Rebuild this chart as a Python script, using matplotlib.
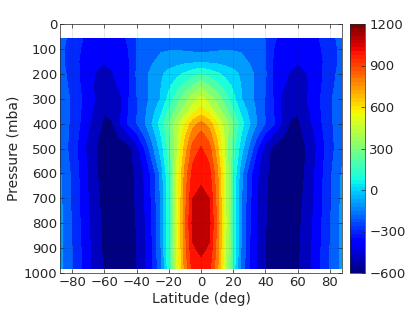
import numpy as np
import matplotlib
matplotlib.use("Agg")
import matplotlib.pyplot as plt

# latitude (deg) and pressure (mba) of the grid
lats = [-87.5, -80, -70, -65, -60, -55, -50, -45, -40, -35, -30, -25, -20, -15, -10, -5,
        0, 5, 10, 15, 20, 25, 30, 35, 40, 45, 50, 55, 60, 65, 70, 80, 87.5]
pressures = [60, 100, 150, 200, 250, 300, 350, 400, 450, 500, 600, 700, 800, 900, 980]

# field values, one row per pressure level (south to north)
row_60 = [-160, -240, -330, -345, -350, -340, -320, -290, -200, -170, -150, -145, -140, -140, -145, -150,
          -150, -150, -145, -140, -140, -145, -150, -170, -200, -290, -320, -340, -350, -345, -330, -240, -160]
row_100 = [-170, -250, -345, -365, -375, -365, -340, -300, -200, -160, -130, -115, -110, -110, -115, -125,
           -130, -125, -115, -110, -110, -115, -130, -160, -200, -300, -340, -365, -375, -365, -345, -250, -170]
row_150 = [-170, -260, -355, -385, -395, -385, -350, -310, -200, -160, -110, -70, -50, -40, -30, -25,
           -20, -25, -30, -40, -50, -70, -110, -160, -200, -310, -350, -385, -395, -385, -355, -260, -170]
row_200 = [-160, -240, -370, -405, -420, -405, -370, -310, -190, -130, -65, -15, 30, 70, 115, 160,
           200, 160, 115, 70, 30, -15, -65, -130, -190, -310, -370, -405, -420, -405, -370, -240, -160]
row_250 = [-150, -230, -370, -420, -445, -430, -385, -320, -200, -130, -65, -5, 80, 160, 235, 310,
           380, 310, 235, 160, 80, -5, -65, -130, -200, -320, -385, -430, -445, -420, -370, -230, -150]
row_300 = [-140, -215, -360, -410, -475, -465, -420, -305, -205, -135, -65, 5, 130, 250, 355, 450,
           530, 450, 355, 250, 130, 5, -65, -135, -205, -305, -420, -465, -475, -410, -360, -215, -140]
row_350 = [-140, -215, -370, -430, -495, -480, -410, -300, -205, -120, -30, 70, 210, 340, 450, 560,
           640, 560, 450, 340, 210, 70, -30, -120, -205, -300, -410, -480, -495, -430, -370, -215, -140]
row_400 = [-140, -220, -385, -450, -520, -505, -400, -285, -205, -110, 10, 140, 300, 455, 600, 760,
           830, 760, 600, 455, 300, 140, 10, -110, -205, -285, -400, -505, -520, -450, -385, -220, -140]
row_450 = [-135, -230, -410, -480, -545, -545, -490, -420, -330, -200, -60, 90, 270, 470, 680, 860,
           940, 860, 680, 470, 270, 90, -60, -200, -330, -420, -490, -545, -545, -480, -410, -230, -135]
row_500 = [-130, -240, -430, -500, -560, -575, -565, -530, -450, -300, -120, 40, 240, 480, 740, 940,
           1010, 940, 740, 480, 240, 40, -120, -300, -450, -530, -565, -575, -560, -500, -430, -240, -130]
row_600 = [-90, -220, -410, -490, -555, -585, -580, -545, -480, -390, -260, -70, 190, 520, 830, 1040,
           1070, 1040, 830, 520, 190, -70, -260, -390, -480, -545, -580, -585, -555, -490, -410, -220, -90]
row_700 = [-80, -215, -400, -475, -540, -580, -580, -550, -485, -400, -275, -90, 180, 530, 860, 1100,
           1130, 1100, 860, 530, 180, -90, -275, -400, -485, -550, -580, -580, -540, -475, -400, -215, -80]
row_800 = [-70, -210, -390, -460, -530, -570, -575, -550, -495, -410, -285, -100, 170, 540, 880, 1130,
           1160, 1130, 880, 540, 170, -100, -285, -410, -495, -550, -575, -570, -530, -460, -390, -210, -70]
row_900 = [-70, -200, -380, -455, -520, -560, -565, -545, -502, -420, -295, -110, 170, 530, 860, 1090,
           1120, 1090, 860, 530, 170, -110, -295, -420, -502, -545, -565, -560, -520, -455, -380, -200, -70]
row_980 = [-70, -200, -375, -450, -515, -550, -555, -540, -505, -420, -302, -120, 160, 510, 830, 1040,
           1070, 1040, 830, 510, 160, -120, -302, -420, -505, -540, -555, -550, -515, -450, -375, -200, -70]

field = np.array([row_60, row_100, row_150, row_200, row_250, row_300, row_350, row_400,
                  row_450, row_500, row_600, row_700, row_800, row_900, row_980])

levels = np.arange(-600, 1201, 100)
vmin, vmax = -600, 1200
cbar_ticks = [-600, -300, 0, 300, 600, 900, 1200]
x_ticks = [-80, -60, -40, -20, 0, 20, 40, 60, 80]
y_ticks = [0, 100, 200, 300, 400, 500, 600, 700, 800, 900, 1000]

txt = "#262626"
plt.rcParams["font.family"] = "DejaVu Sans"

fig = plt.figure(figsize=(4.15, 3.12), dpi=100)
ax = fig.add_axes([60 / 415, 39 / 312, 282 / 415, 249 / 312])
cax = fig.add_axes([350 / 415, 39 / 312, 15 / 415, 249 / 312])

# matlab style: each band takes the colour of its lower level
jet = plt.get_cmap("jet")
band_colors = [jet((lv - vmin) / (vmax - vmin)) for lv in levels[:-1]]
ax.contourf(lats, pressures, field, levels=levels, colors=band_colors)

ax.set_xlim(-87.5, 87.5)
ax.set_ylim(1000, 0)
ax.set_xticks(x_ticks)
ax.set_yticks(y_ticks)
ax.tick_params(direction="in", top=True, right=True, length=3, width=0.5,
               labelsize=9.5, colors=txt, pad=2)
ax.grid(True, color="#262626", alpha=0.12, linewidth=0.6)
ax.set_axisbelow(False)
for s in ax.spines.values():
    s.set_color("#262626")
    s.set_linewidth(0.5)
ax.set_xlabel("Latitude (deg)", fontsize=10, color=txt, labelpad=2)
ax.set_ylabel("Pressure (mba)", fontsize=10, color=txt, labelpad=2)

sm = plt.cm.ScalarMappable(cmap=plt.get_cmap("jet", 64),
                           norm=plt.Normalize(vmin=vmin, vmax=vmax))
cb = fig.colorbar(sm, cax=cax, ticks=cbar_ticks)
cb.outline.set_linewidth(0.5)
cb.outline.set_edgecolor("#262626")
cax.tick_params(direction="in", length=3, width=0.5, labelsize=9.5,
                colors=txt, pad=3)

fig.savefig("out.png", dpi=100)
